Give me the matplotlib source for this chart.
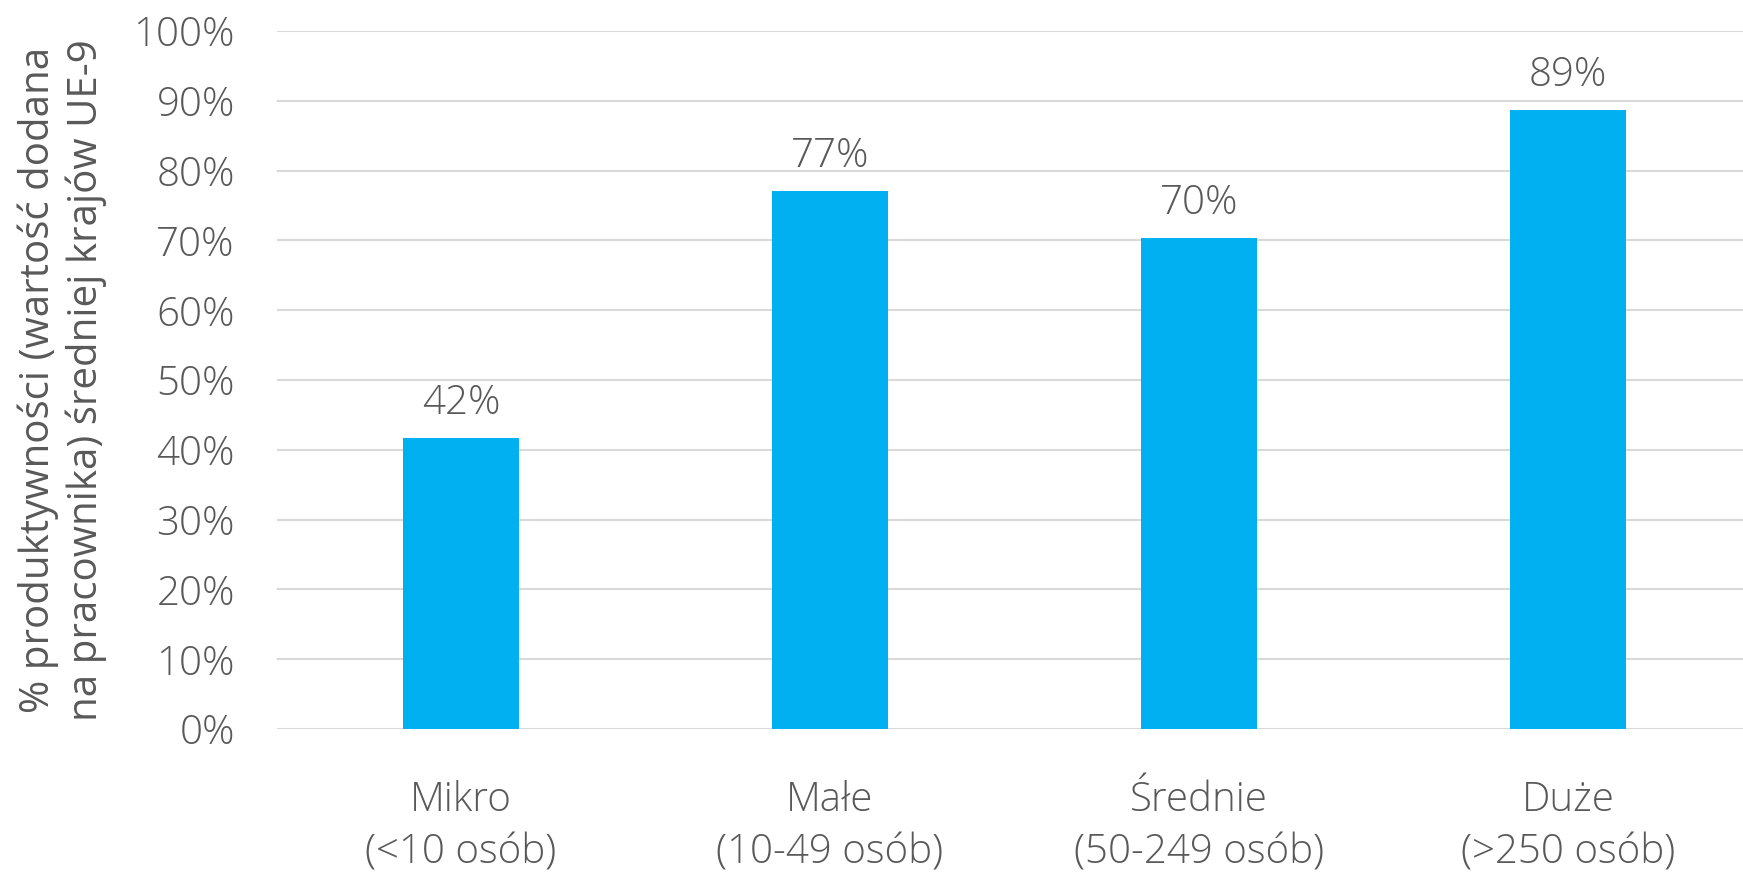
import numpy as np
import matplotlib.pyplot as plt

plt.rcParams['font.family'] = ['Open Sans', 'DejaVu Sans']
plt.rcParams['font.weight'] = 'light'

# Dane
kategorie = ['Mikro\n(<10 osób)', 'Małe\n(10-49 osób)', 'Średnie\n(50-249 osób)', 'Duże\n(>250 osób)']
wartosci = [41.7, 77.1, 70.4, 88.7]
etykiety = ['42%', '77%', '70%', '89%']
yticks = [0, 10, 20, 30, 40, 50, 60, 70, 80, 90, 100]

szary = '#595959'
niebieski = '#00B0F0'
fs = 29

fig = plt.figure(figsize=(17.43, 8.72), dpi=100)
ax = fig.add_axes([276.5 / 1743, 1 - 729 / 872, 1476 / 1743, 698 / 872])

x = np.arange(len(kategorie))
ax.bar(x, wartosci, width=0.315, color=niebieski, zorder=3)

for xi, v, lab in zip(x, wartosci, etykiety):
    ax.text(xi, v + 2.0, lab, ha='center', va='bottom', fontsize=fs, color=szary)

ax.set_xlim(-0.5, 3.5)
ax.set_ylim(0, 100)
ax.set_yticks(yticks)
ax.set_yticklabels([f'{t}%' for t in yticks], fontsize=fs, color=szary)
ax.set_xticks(x)
ax.set_xticklabels(kategorie, fontsize=fs, color=szary, linespacing=1.36)
ax.tick_params(axis='both', length=0)
ax.tick_params(axis='y', pad=30)
ax.tick_params(axis='x', pad=37)

ax.grid(axis='y', color='#d9d9d9', linewidth=1.5, zorder=0)
for s in ax.spines.values():
    s.set_visible(False)

ax.set_ylabel('% produktywności (wartość dodana\nna pracownika) średniej krajów UE-9',
              fontsize=fs, color=szary, linespacing=1.2, labelpad=19)

fig.savefig('out.png', dpi=100)
